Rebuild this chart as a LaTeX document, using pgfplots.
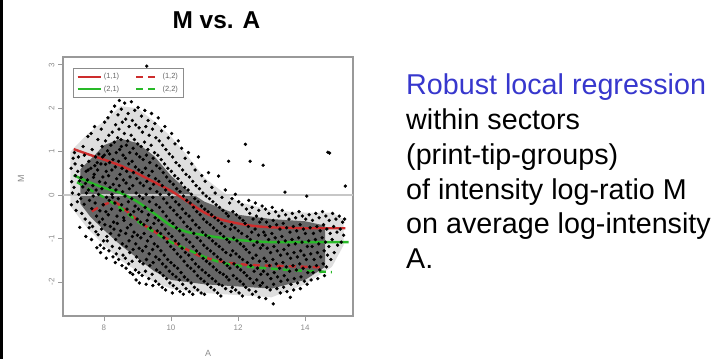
\documentclass[border=0pt]{standalone}
\usepackage{fontspec}
\setmainfont{Liberation Sans}
\usepackage{pgfplots}
\pgfplotsset{compat=1.18}
\definecolor{rred}{RGB}{205,45,45}
\definecolor{rgreen}{RGB}{40,185,40}
\definecolor{tblue}{RGB}{55,55,205}
\begin{document}
\begin{tikzpicture}[x=1bp,y=1bp]
\path[use as bounding box] (0,0) rectangle (724,359);
\fill[black] (0,0) rectangle (3,359);
\node[anchor=base, font=\bfseries\fontsize{24.5}{29}\selectfont] at (216.5,331) {M vs. A};
\begin{axis}[
  at={(63bp,43bp)}, anchor=south west, scale only axis,
  width=290bp, height=259bp,
  xmin=6.78, xmax=15.43, ymin=-2.78, ymax=3.18,
  xtick={8,10,12,14}, ytick={-2,-1,0,1,2,3},
  axis line style={black!40, line width=1.2bp},
  tick style={black!40, line width=0.8bp},
  tick align=outside, major tick length=5bp,
  xtick pos=bottom, ytick pos=left,
  ticklabel style={font=\fontsize{8}{9}\selectfont, text=black!45},
  yticklabel style={rotate=90, anchor=south},
  /pgf/number format/assume math mode=true,
  legend columns=2,
  legend style={at={(0.0345,0.958)}, anchor=north west, draw=black!45, line width=0.8bp,
    font=\fontsize{7.5}{9}\selectfont, text=black!60, inner sep=3bp, row sep=1.5bp,
    /tikz/every even column/.append style={column sep=14bp}},
  legend image code/.code={\draw[#1] (0bp,0bp) -- (23bp,0bp);},
]
\addplot[forget plot, draw=none, fill=black!13] coordinates {
(7.0,1.0)(7.5,1.4)(8.0,1.7)(8.5,2.05)(9.0,2.0)(9.5,1.7)(10.0,1.35)(10.5,0.9)(11.0,0.4)(11.5,0.1)(12.0,-0.15)(13.0,-0.35)(14.0,-0.4)(14.8,-0.4)(15.15,-0.55)
(15.15,-1.15)(14.8,-1.65)(14.0,-2.05)(13.0,-2.35)(12.0,-2.3)(11.0,-2.25)(10.0,-2.15)(9.5,-2.0)(9.0,-1.75)(8.5,-1.5)(8.0,-1.15)(7.5,-0.75)(7.0,-0.25)} -- cycle;
\addplot[forget plot, draw=none, fill=black!60] coordinates {
(7.3,0.6)(7.7,0.9)(8.0,1.15)(8.5,1.3)(9.0,1.2)(9.5,0.9)(10.0,0.45)(10.5,0.1)(11.0,-0.15)(11.5,-0.3)(12.0,-0.45)(13.0,-0.55)(14.0,-0.6)(14.6,-0.7)
(14.6,-1.65)(14.0,-1.95)(13.0,-2.15)(12.0,-2.1)(11.0,-2.05)(10.0,-1.95)(9.5,-1.75)(9.0,-1.45)(8.5,-1.15)(8.0,-0.8)(7.6,-0.5)(7.3,-0.2)} -- cycle;
\addplot[forget plot, only marks, mark=*, mark size=1.5bp, black] coordinates {
(7.02,0.62)(7.04,0.31)(7.06,0.05)(7.03,-0.22)(7.08,0.85)
(7.12,0.98)(7.15,0.45)(7.11,0.18)(7.17,-0.35)(7.14,0.72)
(7.22,0.55)(7.25,0.02)(7.21,-0.15)(7.27,0.33)(7.28,-0.74)(7.24,0.88)
(7.32,0.41)(7.35,0.68)(7.31,-0.08)(7.37,0.19)(7.34,-0.42)(7.38,1.12)
(7.42,0.92)(7.45,0.27)(7.41,-0.21)(7.47,0.55)(7.44,-0.55)(7.48,0.05)(7.46,-0.95)
(7.52,1.35)(7.55,0.78)(7.51,0.35)(7.57,-0.12)(7.54,0.12)(7.58,-0.64)(7.56,-0.75)(7.53,0.58)
(7.62,1.42)(7.65,1.05)(7.61,0.62)(7.67,0.22)(7.64,-0.31)(7.68,-0.02)(7.66,-0.72)(7.63,-1.02)(7.69,0.41)
(7.72,1.58)(7.75,0.88)(7.71,0.48)(7.77,0.12)(7.74,-0.18)(7.78,-0.48)(7.76,-0.84)(7.73,0.68)(7.79,-1.21)
(7.82,1.28)(7.85,0.95)(7.81,0.58)(7.87,0.31)(7.84,0.02)(7.88,-0.36)(7.86,-0.62)(7.83,-0.91)(7.89,-1.15)(7.8,0.75)
(7.92,1.52)(7.95,1.12)(7.91,0.72)(7.97,0.42)(7.94,0.15)(7.98,-0.22)(7.96,-0.55)(7.93,-0.78)(7.99,-1.05)(7.9,-1.32)(7.96,0.88)
(8.02,1.68)(8.05,1.25)(8.01,0.92)(8.07,0.55)(8.04,0.28)(8.08,-0.05)(8.06,-0.38)(8.03,-0.68)(8.09,-0.95)(8.0,-1.22)(8.05,0.71)(8.07,-1.45)
(8.12,1.78)(8.15,1.38)(8.11,1.02)(8.17,0.75)(8.14,0.45)(8.18,0.18)(8.16,-0.12)(8.13,-0.45)(8.19,-0.72)(8.1,-1.05)(8.15,-1.28)(8.17,0.95)
(8.22,1.92)(8.25,1.45)(8.21,1.15)(8.27,0.82)(8.24,0.58)(8.28,0.25)(8.26,-0.05)(8.23,-0.32)(8.29,-0.62)(8.2,-0.88)(8.25,-1.18)(8.27,-1.42)(8.24,0.02)
(8.32,2.05)(8.35,1.62)(8.31,1.22)(8.37,0.98)(8.34,0.65)(8.38,0.38)(8.36,0.12)(8.33,-0.18)(8.39,-0.48)(8.3,-0.78)(8.35,-1.02)(8.37,-1.35)(8.34,-1.55)
(8.42,1.85)(8.45,1.52)(8.41,1.32)(8.47,1.05)(8.44,0.78)(8.48,0.48)(8.46,0.22)(8.43,-0.08)(8.49,-0.35)(8.4,-0.65)(8.45,-0.92)(8.47,-1.22)(8.44,-1.48)(8.46,2.18)
(8.52,1.98)(8.55,1.68)(8.51,1.28)(8.57,0.92)(8.54,0.62)(8.58,0.35)(8.56,0.08)(8.53,-0.22)(8.59,-0.52)(8.5,-0.82)(8.55,-1.12)(8.57,-1.38)(8.54,-1.62)(8.52,1.12)
(8.62,2.12)(8.65,1.75)(8.61,1.42)(8.67,1.15)(8.64,0.85)(8.68,0.55)(8.66,0.28)(8.63,-0.02)(8.69,-0.32)(8.6,-0.58)(8.65,-0.88)(8.67,-1.18)(8.64,-1.45)(8.66,-1.68)
(8.72,1.88)(8.75,1.58)(8.71,1.25)(8.77,0.98)(8.74,0.72)(8.78,0.42)(8.76,0.15)(8.73,-0.15)(8.79,-0.45)(8.7,-0.75)(8.75,-1.05)(8.77,-1.32)(8.74,-1.58)(8.78,-1.78)
(8.82,2.15)(8.85,1.72)(8.81,1.38)(8.87,1.08)(8.84,0.78)(8.88,0.52)(8.86,0.22)(8.83,-0.08)(8.89,-0.38)(8.8,-0.68)(8.85,-0.95)(8.87,-1.25)(8.84,-1.52)(8.86,-1.82)
(8.92,1.95)(8.95,1.62)(8.91,1.28)(8.97,0.95)(8.94,0.65)(8.98,0.38)(8.96,0.05)(8.93,-0.25)(8.99,-0.55)(8.9,-0.85)(8.95,-1.12)(8.97,-1.42)(8.94,-1.72)(8.96,-1.95)
(9.02,2.02)(9.05,1.55)(9.01,1.18)(9.07,0.88)(9.04,0.58)(9.08,0.28)(9.06,-0.02)(9.03,-0.32)(9.09,-0.62)(9.0,-0.92)(9.05,-1.22)(9.07,-1.52)(9.04,-1.78)(9.06,-2.02)
(9.12,1.82)(9.15,1.45)(9.11,1.12)(9.17,0.82)(9.14,0.52)(9.18,0.22)(9.16,-0.08)(9.13,-0.38)(9.19,-0.68)(9.1,-0.98)(9.15,-1.28)(9.17,-1.58)(9.14,-1.85)
(9.22,1.95)(9.25,1.58)(9.21,1.22)(9.27,0.92)(9.24,0.62)(9.28,0.32)(9.26,0.02)(9.23,-0.28)(9.29,-0.58)(9.2,-0.88)(9.25,-1.18)(9.27,-1.48)(9.24,-1.75)(9.26,-2.05)(9.28,2.97)
(9.32,1.72)(9.35,1.38)(9.31,1.05)(9.37,0.75)(9.34,0.45)(9.38,0.15)(9.36,-0.15)(9.33,-0.45)(9.39,-0.75)(9.3,-1.05)(9.35,-1.35)(9.37,-1.62)(9.34,-1.92)
(9.42,1.88)(9.45,1.52)(9.41,1.15)(9.47,0.85)(9.44,0.55)(9.48,0.25)(9.46,-0.05)(9.43,-0.35)(9.49,-0.65)(9.4,-0.95)(9.45,-1.25)(9.47,-1.55)(9.44,-1.82)(9.46,-2.08)
(9.52,1.65)(9.55,1.32)(9.51,0.98)(9.57,0.68)(9.54,0.38)(9.58,0.08)(9.56,-0.22)(9.53,-0.52)(9.59,-0.82)(9.5,-1.12)(9.55,-1.42)(9.57,-1.72)(9.54,-1.98)
(9.62,1.78)(9.65,1.25)(9.61,0.92)(9.67,0.62)(9.64,0.32)(9.68,0.02)(9.66,-0.28)(9.63,-0.58)(9.69,-0.88)(9.6,-1.18)(9.65,-1.48)(9.67,-1.78)(9.64,-2.05)
(9.72,1.48)(9.75,1.15)(9.71,0.82)(9.77,0.52)(9.74,0.22)(9.78,-0.08)(9.76,-0.38)(9.73,-0.68)(9.79,-0.98)(9.7,-1.28)(9.75,-1.58)(9.77,-1.85)(9.74,-2.12)
(9.82,1.58)(9.85,1.05)(9.81,0.72)(9.87,0.42)(9.84,0.12)(9.88,-0.18)(9.86,-0.48)(9.83,-0.78)(9.89,-1.08)(9.8,-1.38)(9.85,-1.65)(9.87,-1.92)(9.84,-2.18)
(9.92,1.32)(9.95,0.95)(9.91,0.62)(9.97,0.32)(9.94,0.02)(9.98,-0.28)(9.96,-0.58)(9.93,-0.88)(9.99,-1.18)(9.9,-1.48)(9.95,-1.75)(9.97,-2.02)
(10.02,1.42)(10.05,0.88)(10.01,0.55)(10.07,0.25)(10.04,-0.05)(10.08,-0.35)(10.06,-0.65)(10.03,-0.95)(10.09,-1.25)(10.0,-1.55)(10.05,-1.82)(10.07,-2.08)(10.04,-2.25)
(10.12,1.18)(10.15,0.75)(10.11,0.45)(10.17,0.15)(10.14,-0.15)(10.18,-0.45)(10.16,-0.75)(10.13,-1.05)(10.19,-1.35)(10.1,-1.62)(10.15,-1.88)(10.17,-2.15)
(10.22,1.25)(10.25,0.68)(10.21,0.38)(10.27,0.08)(10.24,-0.22)(10.28,-0.52)(10.26,-0.82)(10.23,-1.12)(10.29,-1.42)(10.2,-1.68)(10.25,-1.95)(10.27,-2.22)
(10.32,1.08)(10.35,0.58)(10.31,0.28)(10.37,-0.02)(10.34,-0.32)(10.38,-0.62)(10.36,-0.92)(10.33,-1.22)(10.39,-1.52)(10.3,-1.78)(10.35,-2.05)(10.37,-2.28)
(10.42,0.85)(10.45,0.48)(10.41,0.18)(10.47,-0.12)(10.44,-0.42)(10.48,-0.72)(10.46,-1.02)(10.43,-1.32)(10.49,-1.62)(10.4,-1.88)(10.45,-2.15)
(10.52,0.98)(10.55,0.42)(10.51,0.12)(10.57,-0.18)(10.54,-0.48)(10.58,-0.78)(10.56,-1.08)(10.53,-1.38)(10.59,-1.68)(10.5,-1.95)(10.55,-2.22)
(10.62,0.72)(10.65,0.32)(10.61,0.02)(10.67,-0.28)(10.64,-0.58)(10.68,-0.88)(10.66,-1.18)(10.63,-1.48)(10.69,-1.75)(10.6,-2.02)(10.65,-2.28)
(10.72,0.58)(10.75,0.22)(10.71,-0.08)(10.77,-0.38)(10.74,-0.68)(10.78,-0.98)(10.76,-1.28)(10.73,-1.58)(10.79,-1.85)(10.7,-2.12)
(10.82,0.88)(10.85,0.15)(10.81,-0.15)(10.87,-0.45)(10.84,-0.75)(10.88,-1.05)(10.86,-1.35)(10.83,-1.65)(10.89,-1.92)(10.8,-2.18)
(10.92,0.45)(10.95,0.05)(10.91,-0.25)(10.97,-0.55)(10.94,-0.85)(10.98,-1.15)(10.96,-1.45)(10.93,-1.72)(10.99,-1.98)(10.9,-2.25)
(11.02,0.32)(11.05,-0.02)(11.01,-0.32)(11.07,-0.62)(11.04,-0.92)(11.08,-1.22)(11.06,-1.52)(11.03,-1.78)(11.09,-2.05)(11.0,-2.28)
(11.12,0.52)(11.15,-0.08)(11.11,-0.38)(11.17,-0.68)(11.14,-0.98)(11.18,-1.28)(11.16,-1.58)(11.13,-1.85)(11.19,-2.12)
(11.22,0.18)(11.25,-0.15)(11.21,-0.45)(11.27,-0.75)(11.24,-1.05)(11.28,-1.35)(11.26,-1.65)(11.23,-1.92)(11.29,-2.18)
(11.32,0.05)(11.35,-0.22)(11.31,-0.52)(11.37,-0.82)(11.34,-1.12)(11.38,-1.42)(11.36,-1.72)(11.33,-1.98)(11.39,-2.25)
(11.42,0.44)(11.45,-0.28)(11.41,-0.58)(11.47,-0.88)(11.44,-1.18)(11.48,-1.48)(11.46,-1.78)(11.43,-2.05)(11.49,-2.32)
(11.52,-0.05)(11.55,-0.35)(11.51,-0.65)(11.57,-0.95)(11.54,-1.25)(11.58,-1.55)(11.56,-1.82)(11.53,-2.08)
(11.62,0.12)(11.65,-0.42)(11.61,-0.72)(11.67,-1.02)(11.64,-1.32)(11.68,-1.62)(11.66,-1.88)(11.63,-2.15)
(11.72,0.78)(11.75,-0.18)(11.71,-0.48)(11.77,-0.78)(11.74,-1.08)(11.78,-1.38)(11.76,-1.68)(11.73,-1.95)(11.79,-2.22)
(11.82,-0.08)(11.85,-0.38)(11.81,-0.68)(11.87,-0.98)(11.84,-1.28)(11.88,-1.58)(11.86,-1.85)(11.83,-2.12)
(11.92,0.02)(11.95,-0.45)(11.91,-0.75)(11.97,-1.05)(11.94,-1.35)(11.98,-1.65)(11.96,-1.92)(11.93,-2.18)
(12.02,-0.15)(12.05,-0.52)(12.01,-0.82)(12.07,-1.12)(12.04,-1.42)(12.08,-1.72)(12.06,-1.98)(12.03,-2.25)
(12.12,-0.22)(12.15,-0.58)(12.11,-0.88)(12.17,-1.18)(12.14,-1.48)(12.18,-1.78)(12.16,-2.05)(12.13,-2.32)
(12.22,1.17)(12.25,-0.32)(12.21,-0.65)(12.27,-0.95)(12.24,-1.25)(12.28,-1.55)(12.26,-1.85)(12.23,-2.12)
(12.36,0.78)(12.32,-0.12)(12.35,-0.42)(12.31,-0.72)(12.37,-1.02)(12.34,-1.32)(12.38,-1.62)(12.36,-1.92)(12.33,-2.18)
(12.42,-0.28)(12.45,-0.55)(12.41,-0.85)(12.47,-1.15)(12.44,-1.45)(12.48,-1.75)(12.46,-2.02)(12.43,-2.28)
(12.52,-0.18)(12.55,-0.48)(12.51,-0.78)(12.57,-1.08)(12.54,-1.38)(12.58,-1.68)(12.56,-1.95)(12.53,-2.22)
(12.62,-0.35)(12.65,-0.62)(12.61,-0.92)(12.67,-1.22)(12.64,-1.52)(12.68,-1.82)(12.66,-2.08)(12.63,-2.35)
(12.75,0.69)(12.72,-0.25)(12.71,-0.55)(12.77,-0.85)(12.74,-1.15)(12.78,-1.45)(12.76,-1.75)(12.73,-2.02)
(12.82,-0.32)(12.85,-0.62)(12.81,-0.92)(12.87,-1.22)(12.84,-1.52)(12.88,-1.82)(12.86,-2.12)(12.83,-2.38)
(12.92,-0.42)(12.95,-0.72)(12.91,-1.02)(12.97,-1.32)(12.94,-1.62)(12.98,-1.92)(12.96,-2.18)
(13.02,-0.28)(13.05,-0.58)(13.01,-0.88)(13.07,-1.18)(13.04,-1.48)(13.08,-1.78)(13.06,-2.05)(13.05,-2.5)
(13.12,-0.38)(13.15,-0.68)(13.11,-0.98)(13.17,-1.28)(13.14,-1.58)(13.18,-1.88)(13.16,-2.15)
(13.22,-0.48)(13.25,-0.78)(13.21,-1.08)(13.27,-1.38)(13.24,-1.68)(13.28,-1.98)(13.26,-2.25)
(13.32,-0.35)(13.35,-0.65)(13.31,-0.95)(13.37,-1.25)(13.34,-1.55)(13.38,-1.85)(13.36,-2.12)
(13.4,0.07)(13.42,-0.45)(13.45,-0.75)(13.41,-1.05)(13.47,-1.35)(13.44,-1.65)(13.48,-1.95)(13.46,-2.22)
(13.52,-0.55)(13.55,-0.85)(13.51,-1.15)(13.57,-1.45)(13.54,-1.75)(13.58,-2.05)(13.56,-2.35)
(13.62,-0.42)(13.65,-0.72)(13.61,-1.02)(13.67,-1.32)(13.64,-1.62)(13.68,-1.92)(13.66,-2.18)
(13.72,-0.52)(13.75,-0.82)(13.71,-1.12)(13.77,-1.42)(13.74,-1.72)(13.78,-2.02)
(13.82,-0.38)(13.85,-0.68)(13.81,-0.98)(13.87,-1.28)(13.84,-1.58)(13.88,-1.88)(13.86,-2.15)
(13.92,-0.48)(13.95,-0.78)(13.91,-1.08)(13.97,-1.38)(13.94,-1.68)(13.98,-1.98)
(14.05,-0.02)(14.02,-0.55)(14.01,-0.88)(14.07,-1.18)(14.04,-1.48)(14.08,-1.78)(14.06,-2.05)
(14.12,-0.45)(14.15,-0.75)(14.11,-1.05)(14.17,-1.35)(14.14,-1.65)(14.18,-1.95)
(14.22,-0.58)(14.25,-0.88)(14.21,-1.18)(14.27,-1.48)(14.24,-1.78)
(14.32,-0.42)(14.35,-0.72)(14.31,-1.02)(14.37,-1.32)(14.34,-1.62)(14.38,-1.92)
(14.42,-0.52)(14.45,-0.82)(14.41,-1.12)(14.47,-1.42)(14.44,-1.72)
(14.52,-0.38)(14.55,-0.68)(14.51,-0.98)(14.57,-1.28)(14.54,-1.58)(14.58,-1.85)
(14.62,-0.48)(14.65,-0.78)(14.61,-1.08)(14.67,-1.38)(14.64,-1.65)
(14.68,0.99)(14.73,0.97)(14.72,-0.58)(14.75,-0.88)(14.71,-1.18)(14.77,-1.48)
(14.82,-0.42)(14.85,-0.72)(14.81,-1.02)(14.87,-1.32)
(14.92,-0.55)(14.95,-0.85)(14.97,-1.15)
(15.02,-0.48)(15.05,-0.78)(15.08,-1.08)
(15.12,-0.62)(15.15,-0.92)
(15.2,0.21)(15.18,-0.55)
};
\addplot[forget plot, black!22, line width=1.5bp] coordinates {(6.78,0)(15.43,0)};
\addplot[rred, line width=2.4bp, smooth] coordinates {
(7.1,1.06)(7.5,0.95)(8.0,0.82)(8.5,0.68)(9.0,0.5)(9.5,0.3)(10.0,0.1)(10.5,-0.15)(11.0,-0.4)(11.5,-0.56)(12.0,-0.65)(12.5,-0.71)(13.0,-0.74)(13.5,-0.75)(14.0,-0.76)(14.5,-0.76)(15.2,-0.76)};
\addlegendentry{(1,1)}
\addplot[rred, line width=2.4bp, smooth, dash pattern=on 7bp off 5bp] coordinates {
(7.64,-0.37)(8.0,-0.22)(8.33,-0.16)(8.7,-0.38)(9.17,-0.67)(9.6,-0.88)(10.07,-1.08)(10.5,-1.26)(10.87,-1.40)(11.35,-1.50)(11.85,-1.57)(12.5,-1.61)(13.35,-1.63)(14.5,-1.66)};
\addlegendentry{(1,2)}
\addplot[rgreen, line width=2.4bp, smooth] coordinates {
(7.1,0.46)(7.5,0.32)(8.0,0.17)(8.5,0.05)(9.0,-0.15)(9.5,-0.42)(10.0,-0.7)(10.5,-0.85)(11.0,-0.92)(11.5,-0.98)(12.0,-1.03)(12.5,-1.06)(13.0,-1.08)(14.0,-1.08)(15.3,-1.08)};
\addlegendentry{(2,1)}
\addplot[rgreen, line width=2.4bp, smooth, dash pattern=on 7bp off 5bp] coordinates {
(7.2,0.3)(7.6,0.12)(8.0,-0.05)(8.5,-0.3)(9.0,-0.6)(9.5,-0.85)(10.0,-1.08)(10.5,-1.25)(11.0,-1.42)(11.5,-1.55)(12.0,-1.62)(12.5,-1.66)(13.0,-1.69)(13.5,-1.72)(14.0,-1.74)(14.8,-1.77)};
\addlegendentry{(2,2)}
\end{axis}
\node[rotate=90, font=\fontsize{9}{10}\selectfont, text=black!45] at (21,180) {M};
\node[font=\fontsize{9}{10}\selectfont, text=black!45] at (208,6) {A};
\begin{scope}[font=\fontsize{28.8}{34}\selectfont]
\node[anchor=base west, inner sep=0pt, text=tblue] at (406,265) {Robust local regression};
\node[anchor=base west, inner sep=0pt] at (406,230) {within sectors};
\node[anchor=base west, inner sep=0pt] at (406,195) {(print-tip-groups)};
\node[anchor=base west, inner sep=0pt] at (406,160) {of intensity log-ratio M};
\node[anchor=base west, inner sep=0pt] at (406,126) {on average log-intensity};
\node[anchor=base west, inner sep=0pt] at (406,91) {A.};
\end{scope}
\end{tikzpicture}
\end{document}
